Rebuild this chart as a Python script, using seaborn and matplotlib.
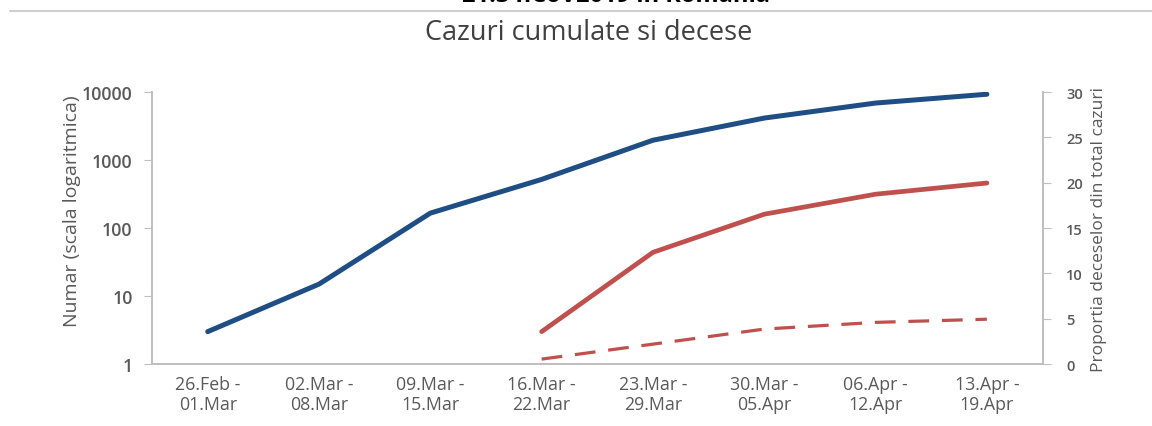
import matplotlib
matplotlib.use("Agg")
import matplotlib.pyplot as plt
import seaborn as sns
import pandas as pd
import numpy as np
from matplotlib.ticker import FixedLocator

# ---- data ----
weeks = ["26.Feb -\n01.Mar", "02.Mar -\n08.Mar", "09.Mar -\n15.Mar", "16.Mar -\n22.Mar",
         "23.Mar -\n29.Mar", "30.Mar -\n05.Apr", "06.Apr -\n12.Apr", "13.Apr -\n19.Apr"]
cases = [3, 15, 166, 520, 1960, 4150, 6900, 9300]
deaths = [np.nan, np.nan, np.nan, 3, 44, 160, 315, 460]
death_share = [np.nan, np.nan, np.nan, 0.55, 2.2, 3.86, 4.6, 4.95]
left_ticks = [1, 10, 100, 1000, 10000]
right_ticks = [0, 5, 10, 15, 20, 25, 30]

sns.set_style("white")
plt.rcParams['font.family'] = ['Open Sans', 'DejaVu Sans']

df = pd.DataFrame({"x": np.arange(len(weeks)), "cases": cases,
                   "deaths": deaths, "share": death_share})

fig = plt.figure(figsize=(11.52, 4.27), dpi=100)
ax = fig.add_axes([0.132, 0.145, 0.773, 0.637])
ax2 = ax.twinx()

blue = "#1f4e84"
red = "#c0504d"
gray_txt = "#595959"
spine_c = "#bfbfbf"

sns.lineplot(data=df, x="x", y="cases", ax=ax, color=blue, lw=3.6)
sns.lineplot(data=df.dropna(), x="x", y="deaths", ax=ax, color=red, lw=3.4)
sns.lineplot(data=df.dropna(), x="x", y="share", ax=ax2, color=red, lw=2.3,
             linestyle=(0, (6.5, 4)))

ax.set_yscale("log")
ax.set_ylim(1, 10000)
ax.set_xlim(-0.5, len(weeks) - 0.5)
ax.yaxis.set_major_locator(FixedLocator(left_ticks))
ax.set_yticklabels([str(t) for t in left_ticks], fontweight="semibold")
ax.yaxis.set_minor_locator(FixedLocator([]))
ax.set_xticks(np.arange(len(weeks)))
ax.set_xticklabels(weeks, fontsize=12.8, color=gray_txt, linespacing=1.15)
ax.xaxis.set_minor_locator(FixedLocator(np.arange(-0.5, len(weeks), 1.0)))
ax.tick_params(axis="x", which="major", length=0, pad=8)
ax.tick_params(axis="x", which="minor", length=5, color=spine_c, direction="out")
ax.tick_params(axis="y", which="major", length=6, color=spine_c, direction="out",
               labelsize=12.8, labelcolor=gray_txt, pad=8)

ax2.set_ylim(0, 30)
ax2.set_yticks(right_ticks)
ax2.set_yticklabels([str(t) for t in right_ticks], fontweight="semibold")
ax2.tick_params(axis="y", length=6, color=spine_c, direction="out",
                labelsize=10.5, labelcolor=gray_txt, pad=11)

ax.set_xlabel("")
ax.set_ylabel("Numar (scala logaritmica)", fontsize=14, color=gray_txt)
ax.yaxis.set_label_coords(-0.08, 0.565)
ax2.set_ylabel("Proportia deceselor din total cazuri", fontsize=12.5, color=gray_txt, labelpad=6)

for a in (ax, ax2):
    a.spines["top"].set_visible(False)
    for s in ("left", "right", "bottom"):
        a.spines[s].set_color(spine_c)
        a.spines[s].set_linewidth(1.3)
    a.grid(False)

fig.text(0.511, 0.922, "Cazuri cumulate si decese", ha="center", va="center",
         fontsize=19.5, color="#404040")
fig.text(0.535, 0.995, "21.3 nCoV2019 in Romania", ha="center", va="baseline",
         fontsize=17, fontweight="bold", color="black")
fig.add_artist(plt.Line2D([0.009, 1.0], [0.972, 0.972], color="#d0d0d0", lw=1.5))

fig.savefig("out.png", dpi=100)
